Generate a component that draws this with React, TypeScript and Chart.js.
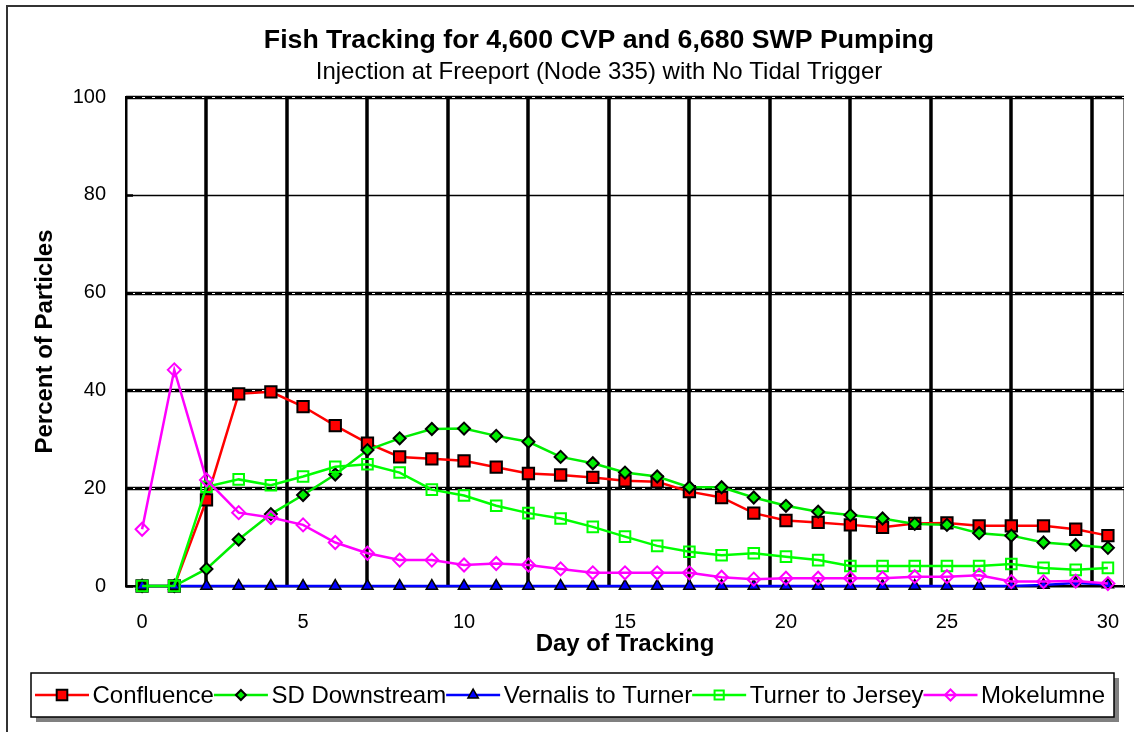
import { useEffect, useRef } from 'react';
import { Chart, registerables } from 'chart.js';
import { drawPoint } from 'chart.js/helpers';

Chart.register(...registerables);

const days = [0, 1, 2, 3, 4, 5, 6, 7, 8, 9, 10, 11, 12, 13, 14, 15, 16, 17, 18, 19, 20, 21, 22, 23, 24, 25, 26, 27, 28, 29, 30];
const confluence = [0, 0, 17.6, 39.3, 39.7, 36.7, 32.8, 29.2, 26.4, 26.0, 25.6, 24.3, 23.0, 22.7, 22.2, 21.5, 21.3, 19.3, 18.1, 14.9, 13.4, 13.0, 12.5, 12.0, 12.8, 12.9, 12.3, 12.3, 12.3, 11.6, 10.3];
const sdDownstream = [0, 0, 3.5, 9.5, 14.7, 18.6, 22.8, 27.8, 30.2, 32.1, 32.2, 30.7, 29.5, 26.4, 25.1, 23.2, 22.4, 20.2, 20.2, 18.1, 16.4, 15.2, 14.5, 13.8, 12.7, 12.5, 10.8, 10.3, 8.9, 8.4, 7.8];
const vernalisToTurner = [0, 0, 0, 0, 0, 0, 0, 0, 0, 0, 0, 0, 0, 0, 0, 0, 0, 0, 0, 0, 0, 0, 0, 0, 0, 0, 0, 0, 0.2, 0.6, 0.3];
const turnerToJersey = [0, 0, 20.3, 21.8, 20.6, 22.4, 24.4, 24.9, 23.2, 19.7, 18.5, 16.4, 14.9, 13.8, 12.1, 10.1, 8.2, 7.0, 6.3, 6.7, 6.0, 5.3, 4.1, 4.1, 4.1, 4.1, 4.1, 4.5, 3.7, 3.3, 3.7];
const mokelumne = [11.6, 44.2, 21.7, 15.0, 14.0, 12.5, 8.9, 6.7, 5.3, 5.3, 4.3, 4.6, 4.3, 3.5, 2.7, 2.7, 2.7, 2.7, 1.8, 1.4, 1.6, 1.6, 1.6, 1.6, 1.9, 1.9, 2.2, 0.9, 0.9, 1.0, 0.5];

const seriesNames = ['Confluence', 'SD Downstream', 'Vernalis to Turner', 'Turner to Jersey', 'Mokelumne'];
const xTickValues = [0, 5, 10, 15, 20, 25, 30];
const yTickValues = [0, 20, 40, 60, 80, 100];
const yThickGrid = [20, 40, 60, 100];
const yThinGrid = [80];
const xGridValues = [2, 4.5, 7, 9.5, 12, 14.5, 17, 19.5, 22, 24.5, 27, 29.5];

const titleText = 'Fish Tracking for 4,600 CVP and 6,680 SWP Pumping';
const subtitleText = 'Injection at Freeport (Node 335) with No Tidal Trigger';
const xTitle = 'Day of Tracking';
const yTitle = 'Percent of Particles';

const FONT = 'Arial, "Liberation Sans", sans-serif';

const toPoints = (arr: number[]) => days.map((d, i) => ({ x: d, y: arr[i] }));

const decorPlugin = {
  id: 'decor',
  beforeDraw(chart: any) {
    const ctx = chart.ctx;
    ctx.save();
    ctx.fillStyle = '#ffffff';
    ctx.fillRect(0, 0, chart.width, chart.height);
    ctx.restore();
  },
  beforeDatasetsDraw(chart: any) {
    const { ctx, chartArea: a, scales } = chart;
    const x = scales.x;
    const y = scales.y;
    ctx.save();
    ctx.strokeStyle = '#808080';
    ctx.lineWidth = 1;
    ctx.beginPath();
    ctx.moveTo(a.right - 0.5, a.top);
    ctx.lineTo(a.right - 0.5, a.bottom);
    ctx.stroke();
    yThinGrid.forEach((v) => {
      const py = Math.round(y.getPixelForValue(v)) + 0.5;
      ctx.strokeStyle = '#000000';
      ctx.lineWidth = 1.5;
      ctx.beginPath();
      ctx.moveTo(a.left, py);
      ctx.lineTo(a.right, py);
      ctx.stroke();
    });
    yThickGrid.forEach((v) => {
      const py = Math.round(y.getPixelForValue(v)) + 0.5;
      ctx.setLineDash([]);
      ctx.strokeStyle = '#000000';
      ctx.lineWidth = 3.5;
      ctx.beginPath();
      ctx.moveTo(a.left, py);
      ctx.lineTo(a.right, py);
      ctx.stroke();
      ctx.strokeStyle = '#ffffff';
      ctx.lineWidth = 1;
      ctx.setLineDash([3, 7]);
      ctx.beginPath();
      ctx.moveTo(a.left + 6, py);
      ctx.lineTo(a.right, py);
      ctx.stroke();
      ctx.setLineDash([]);
    });
    xGridValues.forEach((v) => {
      const px = Math.round(x.getPixelForValue(v));
      ctx.strokeStyle = '#000000';
      ctx.lineWidth = 3.5;
      ctx.beginPath();
      ctx.moveTo(px, a.top - 1);
      ctx.lineTo(px, a.bottom);
      ctx.stroke();
    });
    yTickValues.forEach((v) => {
      const py = Math.round(y.getPixelForValue(v)) + 0.5;
      ctx.strokeStyle = '#000000';
      ctx.lineWidth = 2.5;
      ctx.beginPath();
      ctx.moveTo(a.left, py);
      ctx.lineTo(a.left + 7, py);
      ctx.stroke();
    });
    ctx.restore();
  },
  afterDraw(chart: any) {
    const ctx = chart.ctx;
    ctx.save();
    // outer frame (only left and top edges fall inside the picture)
    ctx.strokeStyle = '#333333';
    ctx.lineWidth = 2;
    ctx.beginPath();
    ctx.moveTo(7, chart.height + 5);
    ctx.lineTo(7, 6);
    ctx.lineTo(chart.width + 5, 6);
    ctx.stroke();

    const cx = 599;
    ctx.fillStyle = '#000000';
    ctx.textAlign = 'center';
    ctx.textBaseline = 'middle';
    ctx.font = `bold 26.7px ${FONT}`;
    ctx.fillText(titleText, cx, 41);
    ctx.font = `24px ${FONT}`;
    ctx.fillText(subtitleText, cx, 72);

    const lx = 31, ly = 673, lw = 1083, lh = 44;
    ctx.fillStyle = '#808080';
    ctx.fillRect(lx + 5, ly + 5, lw, lh);
    ctx.fillStyle = '#ffffff';
    ctx.fillRect(lx, ly, lw, lh);
    ctx.strokeStyle = '#000000';
    ctx.lineWidth = 1.5;
    ctx.strokeRect(lx, ly, lw, lh);

    ctx.font = `24px ${FONT}`;
    ctx.textAlign = 'left';
    ctx.textBaseline = 'middle';
    const cy = ly + lh / 2;
    let cur = 35;
    chart.data.datasets.forEach((ds: any) => {
      ctx.strokeStyle = ds.borderColor;
      ctx.lineWidth = 2.5;
      ctx.beginPath();
      ctx.moveTo(cur, cy);
      ctx.lineTo(cur + 54, cy);
      ctx.stroke();
      ctx.fillStyle = ds.pointBackgroundColor;
      ctx.strokeStyle = ds.pointBorderColor;
      ctx.lineWidth = ds.pointBorderWidth;
      drawPoint(ctx, { pointStyle: ds.pointStyle, rotation: 0, radius: ds.legendRadius, borderWidth: ds.pointBorderWidth } as any, cur + 27, cy);
      ctx.fillStyle = '#000000';
      const tx = cur + 57.5;
      ctx.fillText(ds.label, tx, cy + 1);
      cur = tx + ctx.measureText(ds.label).width;
    });
    ctx.restore();
  },
};

export default function App() {
  const ref = useRef<HTMLCanvasElement | null>(null);
  useEffect(() => {
    if (!ref.current) return;
    const common = { borderWidth: 2.5, tension: 0, fill: false, pointHoverRadius: 7, clip: false };
    const chart = new Chart(ref.current, {
      type: 'line',
      data: {
        datasets: [
          {
            ...common,
            label: seriesNames[0],
            data: toPoints(confluence),
            borderColor: '#ff0000',
            pointStyle: 'rect',
            pointRadius: 8,
            legendRadius: 7.5,
            pointBackgroundColor: '#ff0000',
            pointBorderColor: '#000000',
            pointBorderWidth: 2,
            order: 5,
          } as any,
          {
            ...common,
            label: seriesNames[1],
            data: toPoints(sdDownstream),
            borderColor: '#00ee00',
            pointStyle: 'rectRot',
            pointRadius: 6,
            legendRadius: 5,
            pointBackgroundColor: '#00ee00',
            pointBorderColor: '#000000',
            pointBorderWidth: 2,
            order: 4,
          } as any,
          {
            ...common,
            label: seriesNames[2],
            data: toPoints(vernalisToTurner),
            borderColor: '#0000ff',
            pointStyle: 'triangle',
            pointRadius: 6.5,
            legendRadius: 6,
            pointBackgroundColor: '#0000ff',
            pointBorderColor: '#000000',
            pointBorderWidth: 1.5,
            order: 3,
          } as any,
          {
            ...common,
            label: seriesNames[3],
            data: toPoints(turnerToJersey),
            borderColor: '#00ff00',
            pointStyle: 'rect',
            pointRadius: 7.5,
            legendRadius: 6.5,
            pointBackgroundColor: 'rgba(0,0,0,0)',
            pointBorderColor: '#00ff00',
            pointBorderWidth: 2,
            order: 2,
          } as any,
          {
            ...common,
            label: seriesNames[4],
            data: toPoints(mokelumne),
            borderColor: '#ff00ff',
            pointStyle: 'rectRot',
            pointRadius: 6.5,
            legendRadius: 5.5,
            pointBackgroundColor: 'rgba(0,0,0,0)',
            pointBorderColor: '#ff00ff',
            pointBorderWidth: 2,
            order: 1,
          } as any,
        ],
      },
      options: {
        responsive: false,
        animation: false,
        maintainAspectRatio: false,
        layout: { padding: { left: 0, top: 97, right: 8, bottom: 66 } },
        plugins: {
          legend: { display: false },
          title: { display: false },
          tooltip: { enabled: false },
        },
        scales: {
          x: {
            type: 'linear',
            min: -0.5,
            max: 30.5,
            afterBuildTicks: (scale: any) => {
              scale.ticks = xTickValues.map((v) => ({ value: v }));
            },
            afterFit: (scale: any) => {
              scale.height = 80;
              scale.paddingLeft = 0;
              scale.paddingRight = 0;
            },
            grid: { display: false, drawTicks: false },
            border: { display: true, color: '#000000', width: 2.5 },
            ticks: {
              padding: 24,
              color: '#000000',
              font: { family: FONT, size: 20 },
              maxRotation: 0,
              autoSkip: false,
            },
            title: {
              display: true,
              text: xTitle,
              color: '#000000',
              font: { family: FONT, size: 24, weight: 'bold' },
              padding: { top: 0, bottom: 7 },
            },
          },
          y: {
            type: 'linear',
            min: 0,
            max: 100,
            afterFit: (scale: any) => {
              scale.width = 126;
            },
            afterBuildTicks: (scale: any) => {
              scale.ticks = yTickValues.map((v) => ({ value: v }));
            },
            grid: { display: false, drawTicks: false },
            border: { display: true, color: '#000000', width: 2.5 },
            ticks: {
              padding: 20,
              color: '#000000',
              font: { family: FONT, size: 20 },
            },
            title: {
              display: true,
              text: yTitle,
              color: '#000000',
              font: { family: FONT, size: 24, weight: 'bold' },
              padding: { top: 31, bottom: 0 },
            },
          },
        },
      } as any,
      plugins: [decorPlugin],
    });
    return () => chart.destroy();
  }, []);

  return (
    <div style={{ position: 'absolute', left: 0, top: 0, width: 1134, height: 732, background: '#fff' }}>
      <canvas ref={ref} width={1134} height={732} style={{ display: 'block', width: 1134, height: 732 }} />
    </div>
  );
}
